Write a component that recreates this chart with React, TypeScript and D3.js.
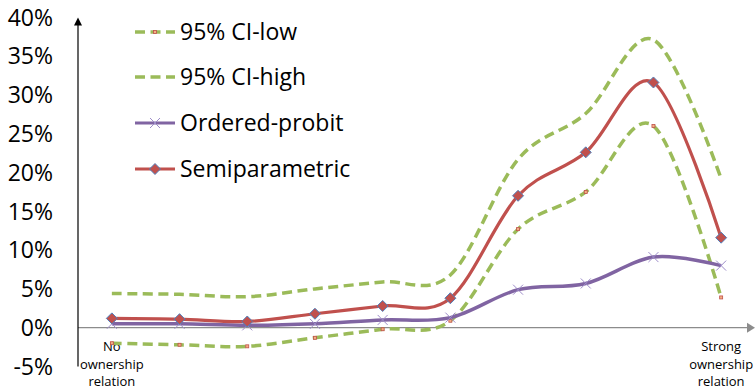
import React from "react";
import * as d3 from "d3";

// Category labels along the x axis (only the two ends are labelled)
const categories: string[] = [
  "No\nownership\nrelation",
  "", "", "", "", "", "", "", "",
  "Strong\nownership\nrelation",
];

// Series values, in percent
const ciLow: number[] = [-2.0, -2.2, -2.4, -1.3, -0.2, 0.9, 12.7, 17.5, 26.0, 3.9];
const ciHigh: number[] = [4.4, 4.3, 4.0, 5.0, 5.9, 6.8, 21.7, 27.6, 37.1, 19.2];
const orderedProbit: number[] = [0.5, 0.5, 0.3, 0.5, 1.0, 1.3, 4.9, 5.7, 9.1, 8.0];
const semiparametric: number[] = [1.2, 1.1, 0.8, 1.8, 2.8, 3.8, 17.0, 22.6, 31.6, 11.6];

const yTicks: number[] = [-5, 0, 5, 10, 15, 20, 25, 30, 35, 40];

const legendNames: string[] = ["95% CI-low", "95% CI-high", "Ordered-probit", "Semiparametric"];

const W = 755;
const H = 390;
const FONT = "'Open Sans', sans-serif";

const GREEN = "#9BBB59";
const RED = "#C0504D";
const PURPLE = "#8064A2";
const PURPLE_MARK = "#9D8CC9";
const BLUE = "#4F81BD";

export default function App() {
  const idx = categories.map((_, i) => i);
  const x = d3.scalePoint<number>().domain(idx).range([78, 755]).padding(0.5);
  const y = d3.scaleLinear().domain([-5, 40]).range([366.5, 17.3]);

  const line = (vals: number[]) =>
    d3
      .line<number>()
      .x((_, i) => x(i) as number)
      .y((v) => y(v))
      .curve(d3.curveCatmullRom.alpha(0))(vals) as string;

  const diamond = (cx: number, cy: number, r: number) =>
    `M${cx},${cy - r}L${cx + r},${cy}L${cx},${cy + r}L${cx - r},${cy}Z`;

  const cross = (cx: number, cy: number, r: number) =>
    `M${cx - r},${cy - r}L${cx + r},${cy + r}M${cx - r},${cy + r}L${cx + r},${cy - r}`;

  const legendY = [32, 77, 123, 169];
  const x0 = y(0);

  return (
    <svg
      width={W}
      height={H}
      style={{ position: "absolute", left: 0, top: 0, background: "#fff" }}
      fontFamily={FONT}
    >
      {/* y tick labels */}
      {yTicks.map((t) => (
        <text key={t} x={53} y={y(t) + 8.2} textAnchor="end" fontSize={23} fill="#000">
          {`${t}%`}
        </text>
      ))}

      {/* x axis with arrow */}
      <line x1={78} x2={747} y1={x0} y2={x0} stroke="#8C8C8C" strokeWidth={1.2} />
      <path d={`M747,${x0 - 5}L755,${x0}L747,${x0 + 5}Z`} fill="#8C8C8C" />

      {/* y axis with arrow */}
      <line x1={78} x2={78} y1={y(-5)} y2={24} stroke="#000" strokeWidth={1.2} />
      <path d={`M74,25.5L78,17.5L82,25.5Z`} fill="#000" />

      {/* category labels */}
      {categories.map((c, i) =>
        c
          ? c.split("\n").map((ln, j) => (
              <text
                key={`${i}-${j}`}
                x={x(i) as number}
                y={351 + j * 17.5}
                textAnchor="middle"
                fontSize={13}
                fill="#000"
              >
                {ln}
              </text>
            ))
          : null
      )}

      {/* CI-low */}
      <path d={line(ciLow)} fill="none" stroke={GREEN} strokeWidth={3.5} strokeDasharray="10,5.5" />
      {ciLow.map((v, i) => (
        <rect
          key={i}
          x={(x(i) as number) - 1.5}
          y={y(v) - 1.5}
          width={3}
          height={3}
          fill="#F4B183"
          stroke={RED}
          strokeWidth={0.8}
        />
      ))}

      {/* CI-high */}
      <path d={line(ciHigh)} fill="none" stroke={GREEN} strokeWidth={3.5} strokeDasharray="10,5.5" />

      {/* Ordered-probit */}
      <path d={line(orderedProbit)} fill="none" stroke={PURPLE} strokeWidth={3.5} />
      {orderedProbit.map((v, i) => (
        <path key={i} d={cross(x(i) as number, y(v), 5)} stroke={PURPLE_MARK} strokeWidth={1} fill="none" />
      ))}

      {/* Semiparametric */}
      <path d={line(semiparametric)} fill="none" stroke={RED} strokeWidth={3.2} />
      {semiparametric.map((v, i) => (
        <path key={i} d={diamond(x(i) as number, y(v), 5.5)} fill={RED} stroke={BLUE} strokeWidth={1} />
      ))}

      {/* legend */}
      {legendNames.map((name, k) => {
        const ly = legendY[k];
        return (
          <g key={name}>
            {k < 2 ? (
              <line x1={135} x2={175} y1={ly} y2={ly} stroke={GREEN} strokeWidth={3.5} strokeDasharray="10,5.5" />
            ) : (
              <line x1={135} x2={175} y1={ly} y2={ly} stroke={k === 2 ? PURPLE : RED} strokeWidth={3.2} />
            )}
            {k === 0 && (
              <rect x={153.5} y={ly - 1.5} width={3} height={3} fill="#F4B183" stroke={RED} strokeWidth={0.8} />
            )}
            {k === 2 && <path d={cross(155, ly, 5)} stroke={PURPLE_MARK} strokeWidth={1} fill="none" />}
            {k === 3 && <path d={diamond(155, ly, 5.5)} fill={RED} stroke={BLUE} strokeWidth={1} />}
            <text x={180} y={ly + 8.2} fontSize={23} fill="#000">
              {name}
            </text>
          </g>
        );
      })}
    </svg>
  );
}
